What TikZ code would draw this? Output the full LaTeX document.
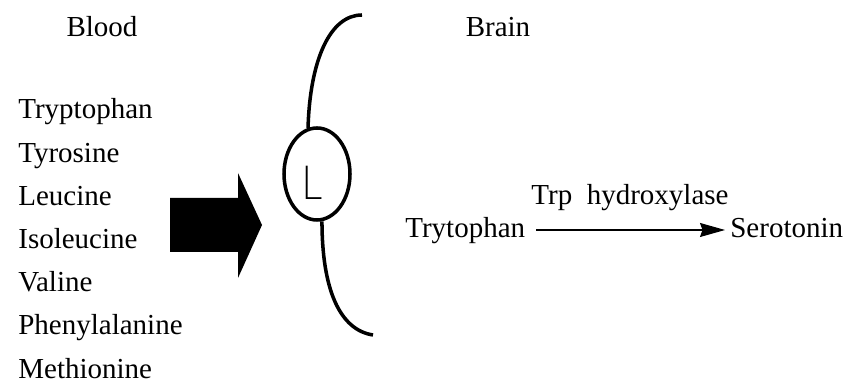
\documentclass[tikz,border=0pt]{standalone}
\usepackage{fontspec}
\setmainfont{Liberation Serif}
\newfontfamily\thinsans{DejaVu Sans ExtraLight}
\usetikzlibrary{arrows.meta,shapes.geometric}

\begin{document}
\begin{tikzpicture}[
    txt/.style={inner sep=0pt, anchor=base, font=\fontsize{16.5}{20}\selectfont},
    aa/.style={txt, anchor=base west},
    wall/.style={line width=2pt}
  ]
    \useasboundingbox (0,0) rectangle (16.98,7.66);

    \node[txt] (blood) at (2.04,6.92) {Blood};
    \node[txt] (brain) at (9.96,6.92) {Brain};

    % amino acids in the blood
    \foreach \aname [count=\i] in {Tryptophan,Tyrosine,Leucine,Isoleucine,Valine,Phenylalanine,Methionine}
        \node[aa] (aa\i) at (0.36,{5.28-0.864*(\i-1)}) {\aname};

    % transport arrow
    \fill (3.40,3.70) -- (4.76,3.70) -- (4.76,4.20) -- (5.24,3.16)
        -- (4.76,2.10) -- (4.76,2.62) -- (3.40,2.62) -- cycle;

    % blood-brain barrier with L carrier
    \node[wall, draw, ellipse, minimum width=1.32cm, minimum height=1.84cm] (carrier) at (6.34,4.18) {};
    \node[inner sep=0pt, xscale=0.85, font=\fontsize{26}{26}\thinsans] (lcar) at (6.24,4.00) {L};
    \coordinate (wtop) at (7.24,7.36);
    \coordinate (wbot) at (7.46,0.96);
    \draw[wall] (carrier.101) .. controls (6.20,6.46) and (6.60,7.36) .. (wtop);
    \draw[wall] (carrier.-84) .. controls (6.44,1.86) and (6.80,1.06) .. (wbot);

    % synthesis in the brain
    \node[txt] (enz) at (12.60,3.56) {Trp\enspace hydroxylase};
    \node[aa] (trp) at (8.10,2.90) {Trytophan};
    \node[aa] (sero) at (14.60,2.90) {Serotonin};
    \draw[-{Stealth[length=0.5cm,width=0.28cm,inset=0.05cm]}, line width=0.6pt]
        ([xshift=0.22cm,yshift=0.16cm]trp.base east) -- ([xshift=-0.1cm,yshift=0.16cm]sero.base west);
\end{tikzpicture}
\end{document}
